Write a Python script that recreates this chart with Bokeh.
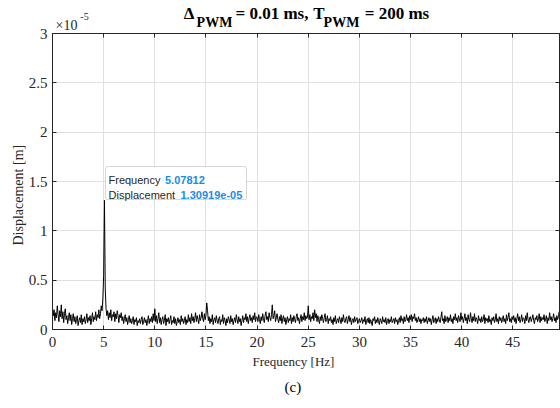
import math
import numpy as np
from bokeh.plotting import figure
from bokeh.models import (Range1d, FixedTicker, LinearAxis, Label, BoxAnnotation,
                          CustomJSTickFormatter, Title)
from bokeh.embed import file_html
from bokeh.resources import INLINE

# ---------------- data (displacement in units of 1e-7 m) ----------------
df_hz = 0.078125
unit = 1e-7
disp_0_5 = [22, 14, 20, 9, 17, 12, 24, 15, 8, 19,
            13, 25, 11, 18, 7, 16, 21, 10, 14, 6,
            12, 17, 9, 15, 5, 11, 16, 8, 13, 6,
            10, 14, 4, 9, 12, 7, 15, 5, 11, 8,
            13, 6, 10, 16, 7, 12, 9, 14, 5, 11,
            17, 8, 13, 10, 18, 9, 15, 12, 20, 11,
            16, 24, 19, 31, 55]
disp_peak = [130.919]
disp_5_10 = [42, 21, 14, 19, 10, 17, 12, 20, 9, 15,
             13, 18, 8, 16, 11, 19, 14, 7, 15, 12,
             17, 9, 13, 6, 11, 15, 8, 12, 5, 10,
             14, 7, 11, 6, 9, 13, 5, 10, 8, 12,
             4, 9, 7, 11, 6, 10, 13, 5, 8, 12,
             7, 10, 4, 9, 14, 6, 11, 8, 13, 7,
             16, 9]
disp_10_15 = [21, 8, 14, 6, 11, 17, 7, 12, 5, 10,
              13, 6, 9, 15, 4, 11, 8, 12, 6, 10,
              14, 5, 9, 7, 13, 6, 11, 4, 8, 12,
              7, 10, 5, 14, 8, 11, 6, 9, 13, 5,
              10, 7, 15, 8, 12, 6, 16, 9, 13, 7,
              11, 17, 8, 14, 10, 6, 15, 9, 12, 18,
              11, 8, 16, 10]
disp_15_20 = [14, 27, 19, 9, 13, 6, 11, 8, 15, 5,
              10, 12, 7, 14, 9, 6, 11, 13, 5, 10,
              8, 15, 6, 12, 9, 4, 11, 7, 13, 10,
              6, 14, 8, 11, 5, 9, 12, 7, 15, 10,
              6, 13, 8, 11, 4, 9, 14, 7, 12, 10,
              16, 8, 13, 6, 11, 15, 9, 12, 7, 14,
              10, 17, 8, 13]
disp_20_25 = [12, 8, 15, 10, 6, 13, 9, 16, 11, 7,
              14, 18, 10, 13, 8, 17, 12, 9, 15, 25,
              11, 14, 19, 8, 12, 16, 10, 7, 13, 9,
              15, 6, 11, 14, 8, 12, 5, 10, 13, 7,
              11, 9, 15, 6, 12, 8, 14, 10, 7, 13,
              16, 9, 12, 6, 11, 15, 8, 13, 10, 17,
              9, 14, 11, 12]
disp_25_30 = [24, 10, 15, 8, 13, 11, 17, 9, 20, 12,
              16, 8, 14, 10, 6, 13, 9, 15, 11, 7,
              12, 16, 8, 10, 14, 6, 11, 9, 13, 7,
              10, 5, 12, 8, 14, 6, 9, 11, 7, 13,
              10, 6, 12, 8, 15, 9, 7, 11, 13, 6,
              10, 14, 8, 12, 5, 9, 11, 7, 13, 8,
              10, 12, 6, 9]
disp_30_35 = [11, 7, 9, 12, 6, 10, 8, 13, 5, 9,
              11, 7, 12, 6, 10, 8, 4, 11, 9, 13,
              6, 10, 7, 12, 8, 5, 11, 9, 6, 13,
              8, 10, 7, 12, 5, 9, 11, 6, 10, 8,
              13, 7, 9, 11, 6, 12, 8, 10, 5, 9,
              12, 7, 14, 9, 11, 6, 13, 8, 10, 15,
              9, 12, 7, 14]
disp_35_40 = [10, 15, 8, 13, 11, 16, 9, 12, 7, 10,
              13, 8, 11, 6, 10, 9, 12, 7, 11, 8,
              13, 6, 9, 12, 8, 11, 5, 10, 14, 7,
              9, 12, 6, 11, 8, 13, 10, 7, 12, 18,
              9, 11, 6, 14, 8, 10, 13, 7, 12, 9,
              15, 8, 11, 6, 13, 10, 16, 9, 12, 7,
              14, 11, 8, 17]
disp_40_45 = [10, 13, 7, 11, 16, 9, 12, 6, 15, 10,
              8, 17, 11, 7, 13, 9, 16, 8, 12, 10,
              6, 14, 9, 11, 7, 13, 8, 10, 15, 6,
              12, 9, 11, 7, 14, 8, 10, 5, 12, 9,
              13, 7, 10, 16, 8, 11, 6, 13, 9, 12,
              7, 10, 14, 8, 11, 6, 15, 9, 12, 17,
              8, 11, 7, 13]
disp_45_50 = [10, 14, 8, 12, 6, 11, 16, 9, 13, 7,
              10, 15, 8, 12, 11, 6, 14, 9, 17, 10,
              7, 12, 13, 8, 11, 15, 9, 6, 12, 10,
              14, 8, 11, 16, 7, 13, 9, 12, 10, 15,
              8, 11, 14, 6, 12, 9, 17, 10, 13, 8,
              11, 16, 9, 12, 7, 14, 10, 13, 18, 9,
              12, 15, 11, 14]

x_ticks = [0, 5, 10, 15, 20, 25, 30, 35, 40, 45]
y_ticks = [0, 0.5e-5, 1e-5, 1.5e-5, 2e-5, 2.5e-5, 3e-5]

# title / exponent text pieces
title_main = ["\u0394", "= 0.01 ms,", "T", "= 200 ms"]
title_sub = ["PWM", "PWM"]
exp_base = "\u00d710"
exp_power = "-5"

segments = [disp_0_5, disp_peak, disp_5_10, disp_10_15, disp_15_20, disp_20_25,
            disp_25_30, disp_30_35, disp_35_40, disp_40_45, disp_45_50]
disp = np.concatenate([np.asarray(s, dtype=float) for s in segments]) * unit
freq = np.arange(len(disp)) * df_hz
ipk = int(np.argmax(disp))

# ---------------- figure ----------------
AX = "#262626"
SERIF = "Liberation Serif"
X_END = 49.56
FRAME_W = 507
p = figure(width=560, height=408, output_backend="svg", toolbar_location=None,
           x_range=Range1d(0, X_END), y_range=Range1d(0, 3e-5),
           min_border_left=52, min_border_right=1, min_border_top=33, min_border_bottom=79,
           background_fill_color="white", border_fill_color="white",
           outline_line_color=AX, outline_line_width=1)

for ax in (p.xaxis[0], p.yaxis[0]):
    ax.major_tick_in = 4
    ax.major_tick_out = 0
    ax.minor_tick_line_color = None
    ax.axis_line_color = AX
    ax.major_tick_line_color = AX
    ax.major_label_text_font = SERIF
    ax.major_label_text_font_size = "15px"
    ax.major_label_text_color = AX
p.xaxis[0].ticker = FixedTicker(ticks=x_ticks)
p.yaxis[0].ticker = FixedTicker(ticks=y_ticks)
p.xaxis[0].major_label_standoff = 7
p.yaxis[0].major_label_standoff = 5
p.yaxis[0].formatter = CustomJSTickFormatter(
    code="return (Math.round(tick*1e6)/10).toString();")

# box ticks on the right and top (labels not drawn)
right = LinearAxis(ticker=FixedTicker(ticks=y_ticks), major_label_text_font_size="1px",
                   major_label_text_color=None, major_label_standoff=0,
                   major_tick_in=4, major_tick_out=0,
                   minor_tick_line_color=None, axis_line_color=AX, major_tick_line_color=AX)
top = LinearAxis(ticker=FixedTicker(ticks=x_ticks), major_label_text_font_size="1px",
                 major_label_text_color=None, major_label_standoff=0,
                 major_tick_in=4, major_tick_out=0,
                 minor_tick_line_color=None, axis_line_color=AX, major_tick_line_color=AX)
p.add_layout(right, "right")
p.add_layout(top, "above")


# ---- text rows above the frame, drawn as tick labels of label-only axes ----
def px_to_x(px):
    """image pixel column -> x data coordinate (frame spans 52..559)"""
    return (px - 52) / FRAME_W * X_END


ASC, DESC = 0.891, 0.216
rule = 33.0  # current outer edge of the above panel stack


def text_axis(texts, centers_px, size, bold, baseline_y, color):
    global rule
    ticks = [round(px_to_x(c), 3) for c in centers_px]
    d = DESC * size
    st = int(round(rule - baseline_y - d))
    ax = LinearAxis(ticker=FixedTicker(ticks=ticks),
                    major_label_overrides={t: s for t, s in zip(ticks, texts)},
                    major_label_text_font=SERIF,
                    major_label_text_font_size=f"{size}px",
                    major_label_text_font_style="bold" if bold else "normal",
                    major_label_text_color=color,
                    major_label_standoff=st, major_tick_in=0, major_tick_out=0,
                    axis_line_color=None, major_tick_line_color=None,
                    minor_tick_line_color=None)
    p.add_layout(ax, "above")
    rule -= math.ceil(st + (ASC + DESC) * size)


text_axis([exp_base], [66.0], 14, False, 29.3, AX)
text_axis(title_sub, [214.0, 341.0], 14, True, 28.3, "black")
text_axis([exp_power], [84.0], 10, False, 20.7, AX)
text_axis(title_main, [188.5, 271.5, 318.5, 396.5], 17, True, 20.0, "black")

p.xgrid.grid_line_color = "#e0e0e0"
p.ygrid.grid_line_color = "#e0e0e0"
p.xgrid.ticker = FixedTicker(ticks=x_ticks)
p.ygrid.ticker = FixedTicker(ticks=y_ticks)

p.line(freq, disp, line_color="black", line_width=1)

# axis labels and caption as titles
p.add_layout(Title(text="Displacement [m]", align="left", offset=84, standoff=0,
                   text_font=SERIF, text_font_style="normal", text_font_size="14px",
                   text_color=AX), "left")
p.add_layout(Title(text="Frequency [Hz]", align="left", offset=200, standoff=4,
                   text_font=SERIF, text_font_style="normal", text_font_size="13px",
                   text_color=AX), "below")
p.add_layout(Title(text="(c)", align="left", offset=232, standoff=12,
                   text_font=SERIF, text_font_style="normal", text_font_size="15px",
                   text_color="black"), "below")


def lab(text, x, y, size, bold=False, font=SERIF, color="black"):
    p.add_layout(Label(text=text, x=x, y=y, x_units="screen", y_units="screen",
                       text_font=font, text_font_size=f"{size}px",
                       text_font_style="bold" if bold else "normal",
                       text_color=color, text_align="left", text_baseline="alphabetic"))


# data tip
p.add_layout(BoxAnnotation(left=53, right=194, bottom=130, top=163,
                           left_units="screen", right_units="screen",
                           bottom_units="screen", top_units="screen",
                           fill_color="white", fill_alpha=1.0,
                           line_color="#7a7a7a", line_width=1, border_radius=2))
SANS = "Liberation Sans"
BLUE = "#1a8ce6"
lab("Frequency", 56, 150, 11, font=SANS, color=AX)
lab(f"{freq[ipk]:.6g}", 112.5, 150, 11, bold=True, font=SANS, color=BLUE)
lab("Displacement", 56, 134.7, 11, font=SANS, color=AX)
lab(f"{disp[ipk]:.6g}", 128, 134.7, 11, bold=True, font=SANS, color=BLUE)

open("out.html", "w").write(file_html(p, INLINE))
